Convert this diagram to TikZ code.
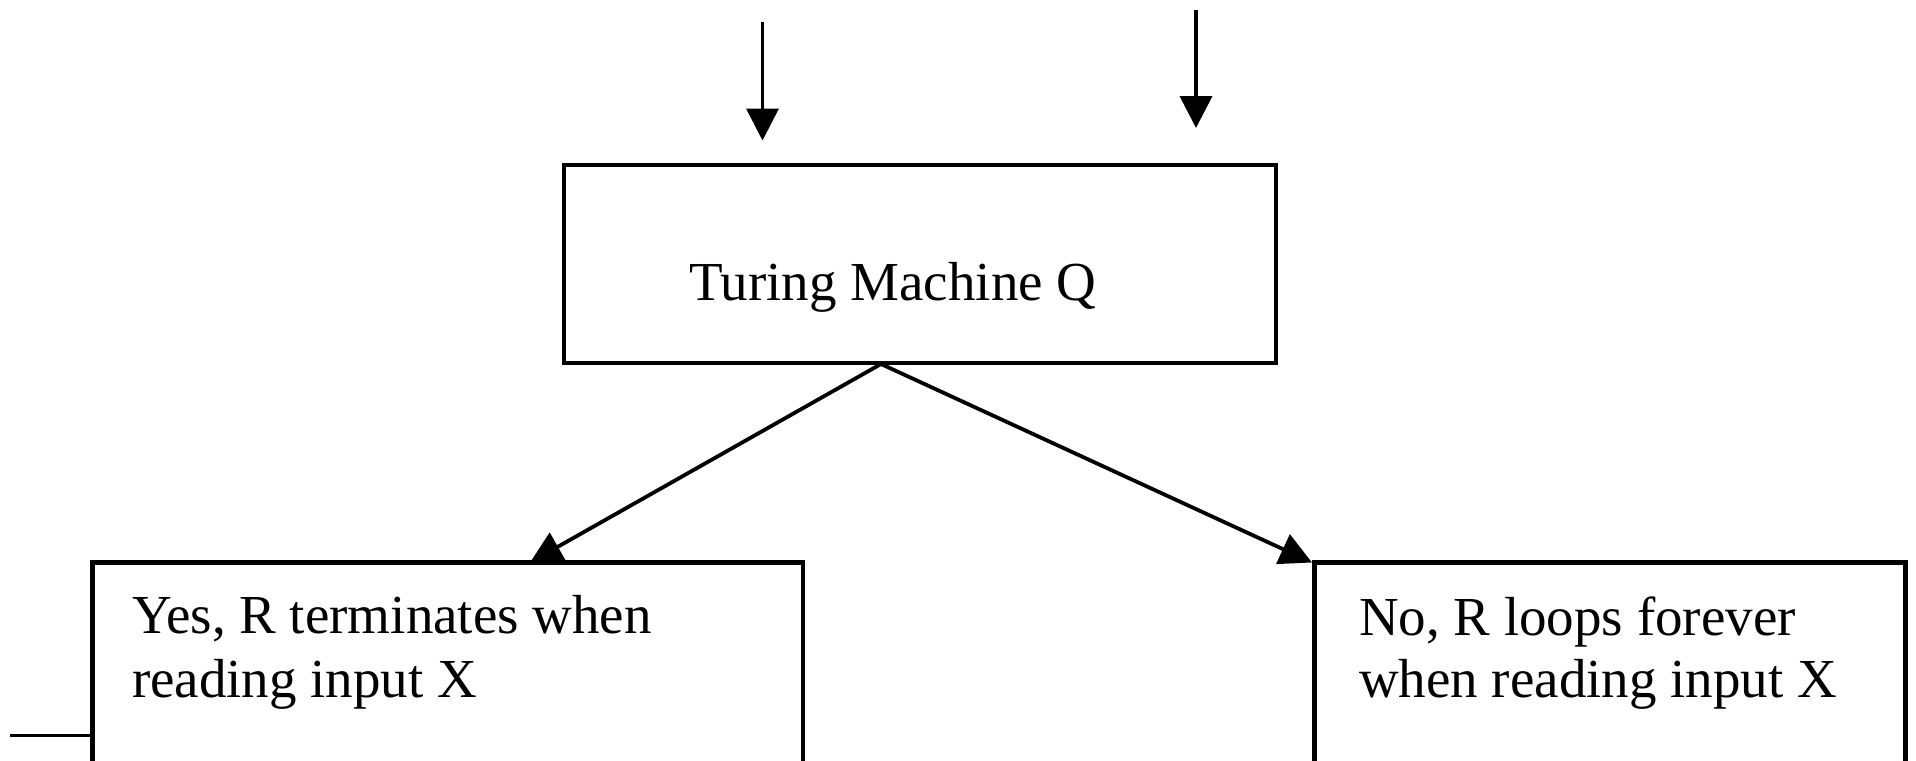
\documentclass[tikz,border=0pt]{standalone}
\usepackage{fontspec}
\setmainfont{Liberation Serif}
\usetikzlibrary{arrows.meta}
\begin{document}
\begin{tikzpicture}[x=0.5pt,y=-0.5pt,
  box/.style={draw=black,line width=2.2pt,inner sep=0pt,outer sep=0pt,fill=none},
  lbl/.style={inner sep=0pt,outer sep=0pt,anchor=base west,font=\fontsize{27.5}{32}\selectfont},
  arr/.style={draw=black,line width=1.9pt,-{Triangle[length=16pt,width=16pt]}},
  plain/.style={draw=black,line width=1.6pt}]
\useasboundingbox (0,0) rectangle (1916,760);
\clip (0,0) rectangle (1916,760);
\fill[white] (0,0) rectangle (1916,760);
% boxes
\node[box,minimum width=356pt,minimum height=98.75pt] (tm) at (920,264) {};
\node[box,minimum width=355.25pt,minimum height=118.75pt] (yes) at (447.75,681.25) {};
\node[box,minimum width=295.5pt,minimum height=118.75pt] (no) at (1610,681.25) {};
% texts
\node[lbl] (tmt) at (689,300) {Turing Machine Q};
\node[lbl] (yes1) at (132,633) {Yes, R terminates when};
\node[lbl] (yes2) at (132,697) {reading input X};
\node[lbl] (no1) at (1359,635) {No, R loops forever};
\node[lbl] (no2) at (1359,697) {when reading input X};
% input arrows
\coordinate (in1s) at (762.5,22);
\coordinate (in1e) at (762.5,140.5);
\coordinate (in2s) at (1196,10);
\coordinate (in2e) at (1196,128);
\draw[arr] (in1s) -- (in1e);
\draw[arr] (in2s) -- (in2e);
% output arrows
\coordinate (qout) at (881,364);
\coordinate (yesin) at (530,562.5);
\coordinate (noin) at (1312,562.5);
\draw[arr] (qout) -- (yesin);
\draw[arr] (qout) -- (noin);
% left stub line
\coordinate (stub) at (10,735.5);
\draw[plain] (stub) -- (stub -| yes.west);
\end{tikzpicture}
\end{document}
